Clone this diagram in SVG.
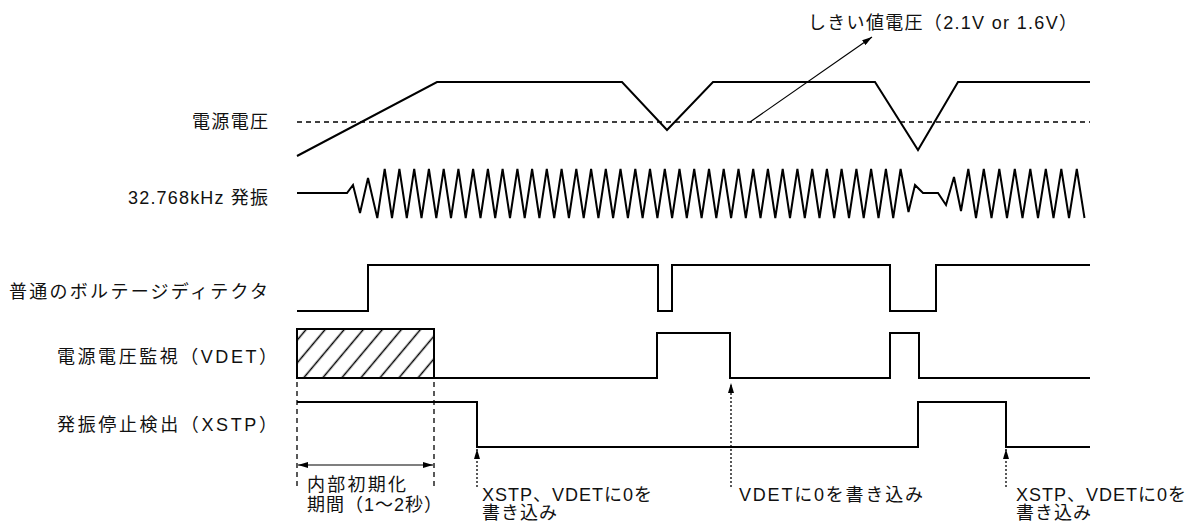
<svg xmlns="http://www.w3.org/2000/svg" width="1187" height="525" viewBox="0 0 1187 525">
<style>
.w{fill:none;stroke:#000;stroke-width:2;stroke-linejoin:miter}
.t{font-family:"Liberation Sans","Noto Sans CJK JP",sans-serif;font-size:18px;fill:#111;letter-spacing:1px}
.dash{fill:none;stroke:#000;stroke-width:1.3;stroke-dasharray:5 4}
.dot{fill:none;stroke:#000;stroke-width:1.3;stroke-dasharray:2 2}
.thin{fill:none;stroke:#000;stroke-width:1.2}
</style>
<defs>
<marker id="ah" viewBox="0 0 10 6" refX="10" refY="3" markerWidth="10" markerHeight="6" markerUnits="userSpaceOnUse" orient="auto-start-reverse"><path d="M0,0 L10,3 L0,6 Z" fill="#000"/></marker>
<pattern id="hatch" patternUnits="userSpaceOnUse" width="14.6" height="20" patternTransform="translate(297,329) rotate(40)"><line x1="7.3" y1="-5" x2="7.3" y2="25" stroke="#000" stroke-width="1.5"/></pattern>
</defs>

<g id="vdd">
<text class="t" x="192" y="128" textLength="77" lengthAdjust="spacing">電源電圧</text>
<line class="dash" x1="297" y1="122" x2="1090" y2="122"/>
<polyline class="w" points="297,156 437,82 622,82 667,130 713,82 875,82 918,150 958,82 1090,82"/>
</g>

<g id="osc">
<text class="t" x="128" y="204" textLength="141" lengthAdjust="spacing">32.768kHz 発振</text>
<polyline class="w" points="297,193 347,193 353,185 360,213 368,178 377.3,218 384.7,169 392.0,218 399.4,169 406.8,218 414.2,169 421.5,218 428.9,169 436.3,218 443.7,169 451.0,218 458.4,169 465.7,218 473.1,169 480.5,218 487.9,169 495.2,218 502.6,169 510.0,218 517.4,169 524.7,218 532.1,169 539.4,218 546.8,169 554.2,218 561.6,169 568.9,218 576.3,169 583.7,218 591.1,169 598.4,218 605.8,169 613.1,218 620.5,169 627.9,218 635.3,169 642.6,218 650.0,169 657.4,218 664.8,169 672.1,218 679.5,169 686.8,218 694.2,169 701.6,218 709.0,169 716.3,218 723.7,169 731.1,218 738.5,169 745.8,218 753.2,169 760.5,218 767.9,169 775.3,218 782.7,169 790.0,218 797.4,169 804.8,218 812.2,169 819.5,218 826.9,169 834.2,218 841.6,169 849.0,218 856.4,169 863.7,218 871.1,169 878.5,218 885.9,169 893.2,218 900.6,169 908.5,212 915,185 923,193 938,193 946,205 954,177 961,211 968.3,169 976.0,218 983.8,169 991.5,218 999.3,169 1007.0,218 1014.8,169 1022.5,218 1030.3,169 1038.0,218 1045.8,169 1053.5,218 1061.3,169 1069.0,218 1076.8,169 1084.5,218"/>
</g>

<g id="detector">
<text class="t" x="9" y="298" textLength="260" lengthAdjust="spacing">普通のボルテージディテクタ</text>
<polyline class="w" points="297,311 368,311 368,265 658,265 658,311 672,311 672,265 890,265 890,311 936,311 936,265 1090,265"/>
</g>

<g id="vdet">
<text class="t" x="57" y="363" textLength="221" lengthAdjust="spacing">電源電圧監視（VDET）</text>
<rect x="297" y="329" width="137" height="49" fill="url(#hatch)" stroke="#000" stroke-width="2"/>
<polyline class="w" points="434,378 657,378 657,333 730,333 730,378 890,378 890,333 919,333 919,378 1090,378"/>
</g>

<g id="xstp">
<text class="t" x="57" y="431" textLength="221" lengthAdjust="spacing">発振停止検出（XSTP）</text>
<polyline class="w" points="297,402 477,402 477,447 918,447 918,402 1006,402 1006,447 1090,447"/>
</g>

<g id="threshold-label">
<text class="t" x="808" y="29" textLength="270" lengthAdjust="spacing">しきい値電圧（2.1V or 1.6V）</text>
</g>

<g id="init-period">
<line class="dash" x1="297" y1="382" x2="297" y2="486"/>
<line class="dash" x1="434" y1="382" x2="434" y2="486"/>
<text class="t" x="307" y="491" textLength="100" lengthAdjust="spacing">内部初期化</text>
<text class="t" x="307" y="511">期間（1～2秒）</text>
</g>

<g id="note1">
<text class="t" x="482" y="501">XSTP、VDETに0を</text>
<text class="t" x="482" y="519">書き込み</text>
</g>
<g id="note2">
<text class="t" x="739" y="501" style="letter-spacing:1.8px">VDETに0を書き込み</text>
</g>
<g id="note3">
<text class="t" x="1016" y="501">XSTP、VDETに0を</text>
<text class="t" x="1016" y="519">書き込み</text>
</g>

<g id="connectors">
<line class="thin" x1="750" y1="122" x2="872" y2="37" marker-end="url(#ah)"/>
<line class="thin" x1="298" y1="465" x2="433" y2="465" marker-start="url(#ah)" marker-end="url(#ah)"/>
<line class="dot" x1="477" y1="487" x2="477" y2="449" marker-end="url(#ah)"/>
<line class="dot" x1="731" y1="487" x2="731" y2="383" marker-end="url(#ah)"/>
<line class="dot" x1="1006" y1="487" x2="1006" y2="449" marker-end="url(#ah)"/>
</g>
</svg>
